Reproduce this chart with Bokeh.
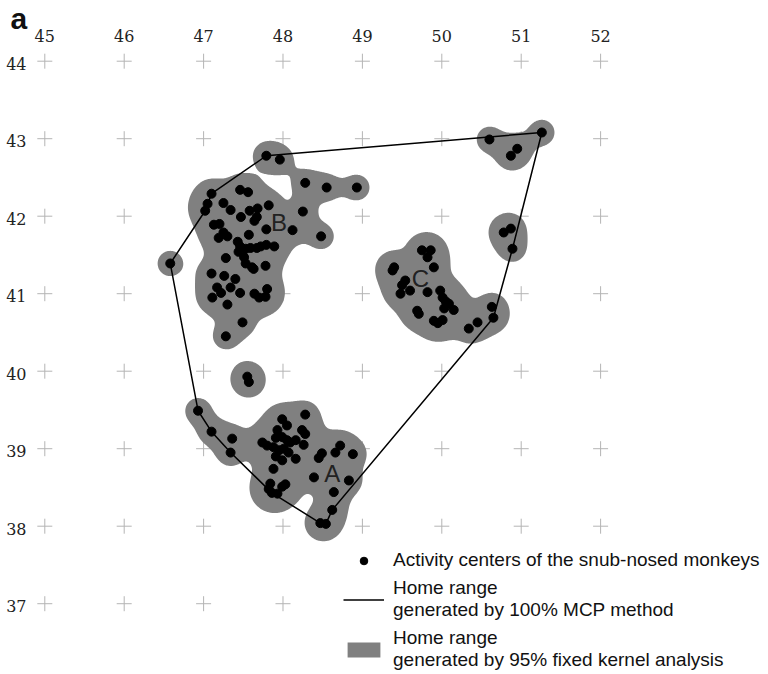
import numpy as np
import contourpy
from bokeh.plotting import figure
from bokeh.models import Legend, LegendItem, Label, Range1d
from bokeh.core.properties import value
from bokeh.embed import file_html
from bokeh.resources import INLINE

# ---------------- data ----------------
x_ticks = [45, 46, 47, 48, 49, 50, 51, 52]
y_ticks = [37, 38, 39, 40, 41, 42, 43, 44]
x_tick_labels = ["45", "46", "47", "48", "49", "50", "51", "52"]
y_tick_labels = ["37", "38", "39", "40", "41", "42", "43", "44"]

north_x = [47.79, 47.96, 48.28, 48.55, 48.93, 48.25, 48.12, 48.48]
north_y = [42.78, 42.73, 42.43, 42.37, 42.37, 42.06, 41.82, 41.74]

b_x = [47.10, 47.05, 47.02, 47.46, 47.56, 47.25, 47.34, 47.47, 47.58, 47.68,
       47.82, 47.67, 47.64, 47.79, 47.13, 47.20, 47.25, 47.19, 47.30, 47.57,
       47.43, 47.46, 47.53, 47.59, 47.67, 47.72, 47.79, 47.89, 47.44, 47.51,
       47.28, 47.53, 47.61, 47.63, 47.78, 47.10, 47.26, 47.40, 47.17, 47.22,
       47.11, 47.34, 47.46, 47.30, 47.64, 47.70, 47.78, 47.80, 47.49, 47.28]
b_y = [42.29, 42.16, 42.07, 42.34, 42.31, 42.17, 42.08, 41.99, 42.07, 42.10,
       42.14, 41.99, 41.94, 41.83, 41.89, 41.90, 41.79, 41.72, 41.74, 41.76,
       41.67, 41.61, 41.58, 41.59, 41.59, 41.61, 41.63, 41.61, 41.54, 41.47,
       41.46, 41.39, 41.34, 41.32, 41.36, 41.26, 41.23, 41.19, 41.08, 41.01,
       40.95, 41.08, 41.01, 40.86, 41.00, 40.95, 40.96, 41.06, 40.63, 40.45]

west_x = [46.58]
west_y = [41.39]

mid_x = [47.55, 47.57]
mid_y = [39.93, 39.86]

a_x = [46.93, 47.10, 47.36, 47.34, 48.28, 47.99, 48.05, 47.93, 48.24, 48.28,
       47.74, 47.80, 47.91, 47.99, 48.05, 48.09, 48.16, 48.26, 47.88, 47.95,
       48.01, 48.07, 47.91, 47.99, 48.16, 47.88, 48.49, 48.45, 48.72, 48.66,
       48.88, 48.39, 48.83, 48.64, 48.62, 48.47, 48.54, 47.82, 47.86, 47.93,
       47.99, 48.03, 47.84]
a_y = [39.49, 39.22, 39.13, 38.95, 39.44, 39.38, 39.30, 39.24, 39.24, 39.19,
       39.08, 39.04, 39.14, 39.15, 39.11, 39.08, 39.11, 39.05, 39.02, 38.98,
       39.00, 38.95, 38.90, 38.85, 38.87, 38.74, 38.94, 38.88, 39.04, 38.95,
       38.93, 38.63, 38.59, 38.44, 38.21, 38.04, 38.03, 38.48, 38.43, 38.42,
       38.51, 38.54, 38.55]

ne_x = [51.26, 50.60, 50.95, 50.87, 50.78, 50.87, 50.89]
ne_y = [43.08, 42.99, 42.87, 42.78, 41.79, 41.84, 41.58]

c_x = [49.75, 49.86, 49.82, 49.40, 49.38, 49.90, 49.54, 49.50, 49.60, 49.48,
       49.82, 49.98, 50.01, 50.05, 50.09, 50.15, 50.03, 49.69, 49.71, 49.90,
       49.95, 50.01, 50.63, 50.65, 50.45, 50.34]
c_y = [41.56, 41.56, 41.47, 41.34, 41.30, 41.34, 41.17, 41.11, 41.04, 41.00,
       41.02, 41.04, 40.95, 40.90, 40.87, 40.79, 40.81, 40.78, 40.74, 40.65,
       40.62, 40.66, 40.83, 40.69, 40.63, 40.55]

# 100% MCP polygon (closed)
mcp_x = [51.26, 50.89, 50.65, 48.62, 48.54, 48.47, 47.86, 47.34, 47.10, 46.93,
         46.58, 47.02, 47.10, 47.79, 51.26]
mcp_y = [43.08, 41.58, 40.69, 38.21, 38.03, 38.04, 38.43, 38.95, 39.22, 39.49,
         41.39, 42.07, 42.29, 42.78, 43.08]

area_labels = ["A", "B", "C"]
area_label_x = [48.62, 47.95, 49.73]
area_label_y = [38.68, 41.92, 41.19]

legend_labels = ["Activity centers of the snub-nosed monkeys",
                 "Home range\ngenerated by 100% MCP method",
                 "Home range\ngenerated by 95% fixed kernel analysis"]

# ---------------- derived ----------------
all_x = north_x + b_x + west_x + mid_x + a_x + ne_x + c_x
all_y = north_y + b_y + west_y + mid_y + a_y + ne_y + c_y

# fixed-kernel density surface from the activity centres
h = 0.135
ky = 77.5 / 79.4
gxs = np.linspace(46.0, 52.0, 601)
gys = np.linspace(37.4, 43.7, 631)
GX, GY = np.meshgrid(gxs, gys)
Z = np.zeros_like(GX)
for px, py in zip(all_x, all_y):
    Z += np.exp(-((GX - px) ** 2 + ((GY - py) * ky) ** 2) / (2 * h * h))
level = 0.50
gen = contourpy.contour_generator(gxs, gys, Z, fill_type="OuterOffset")
polys, offs = gen.filled(level, float(Z.max()) + 1.0)
kx, kyy = [], []
for pts, off in zip(polys, offs):
    rx = [pts[off[i]:off[i + 1], 0].tolist() for i in range(len(off) - 1)]
    ry = [pts[off[i]:off[i + 1], 1].tolist() for i in range(len(off) - 1)]
    kx.append([rx])
    kyy.append([ry])

cross_x = [x for y in y_ticks for x in x_ticks]
cross_y = [y for y in y_ticks for x in x_ticks]

# ---------------- figure ----------------
p = figure(width=768, height=674, output_backend="svg", toolbar_location=None,
           x_range=Range1d(44.4421, 54.1146), y_range=Range1d(36.0865, 44.7832),
           x_axis_location=None, y_axis_location=None,
           min_border=0)
p.outline_line_color = None
p.grid.visible = False
p.background_fill_color = "white"
p.border_fill_color = "white"

# tick labels (top and left), placed next to the grid crosses
p.text(x=x_ticks, y=[44.319] * len(x_ticks), text=x_tick_labels,
       text_font=value("DejaVu Serif"), text_font_size="16px",
       text_align="center", text_baseline="middle", text_color="#222222")
p.text(x=[44.77] * len(y_ticks), y=[t - 0.03 for t in y_ticks], text=y_tick_labels,
       text_font=value("DejaVu Serif"), text_font_size="16px",
       text_align="right", text_baseline="middle", text_color="#222222")

p.scatter(cross_x, cross_y, marker="cross", size=15, line_color="#b4b4b4", line_width=1)

kern = p.multi_polygons(xs=kx, ys=kyy, fill_color="#808080", line_color=None)
mcp = p.line(mcp_x, mcp_y, line_color="black", line_width=1.5)
dots = p.scatter(all_x, all_y, size=9, fill_color="black", line_color="black")

p.text(x=area_label_x, y=area_label_y, text=area_labels,
       text_font=value("Liberation Sans"), text_font_size="24px",
       text_align="center", text_baseline="middle", text_color="#222222")

legend = Legend(items=[LegendItem(label=legend_labels[0], renderers=[dots]),
                       LegendItem(label=legend_labels[1], renderers=[mcp]),
                       LegendItem(label=legend_labels[2], renderers=[kern])],
                location=(343, 3), glyph_width=41, glyph_height=19,
                label_standoff=9, spacing=6, padding=0, margin=0,
                border_line_color=None, background_fill_color="white",
                background_fill_alpha=1.0,
                label_text_font="Liberation Sans", label_text_font_size="19px",
                label_text_line_height=0.88, label_text_color="#111111")
p.add_layout(legend)

p.add_layout(Label(x=10, y=673, x_units="screen", y_units="screen", text="a",
                   text_font="Liberation Sans", text_font_size="30px",
                   text_font_style="bold", text_baseline="top",
                   text_color="#111111"))

open("out.html", "w").write(file_html(p, INLINE))
